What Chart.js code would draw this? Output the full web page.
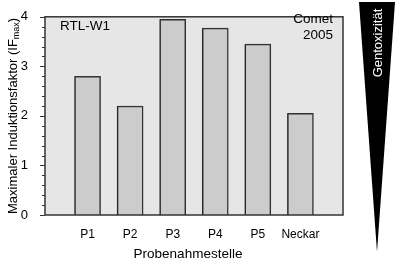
<!DOCTYPE html>
<html>
<head>
<meta charset="utf-8">
<script src="https://cdn.jsdelivr.net/npm/chart.js@4.4.1/dist/chart.umd.min.js"></script>
<style>
  html, body { margin: 0; padding: 0; background: #fff; }
  canvas { display: block; }
</style>
</head>
<body>
<canvas id="ifChart" width="396" height="261"></canvas>
<script>
// sampling sites (empty slots at both ends keep the axis running 0..7)
const sites = ['', 'P1', 'P2', 'P3', 'P4', 'P5', 'Neckar', ''];
const ifMax = [null, 2.80, 2.20, 3.95, 3.77, 3.45, 2.05, null];
const yMin = 0;
const yMax = 4;
const yMinorStep = 0.2;

const FONT = "'Liberation Sans', Arial, sans-serif";

const decor = {
    id: 'decor',
    beforeDraw(chart) {
        const { ctx, chartArea: a } = chart;
        ctx.save();
        ctx.fillStyle = '#e6e6e6';
        ctx.fillRect(a.left, a.top, a.right - a.left, a.bottom - a.top);
        ctx.restore();
    },
    beforeDatasetsDraw(chart) {
        // faint shadow on the left side of the bars
        const ctx = chart.ctx;
        ctx.save();
        ctx.shadowColor = 'rgba(0,0,0,0.22)';
        ctx.shadowOffsetX = -1.5;
        ctx.shadowOffsetY = 0;
        ctx.shadowBlur = 0;
    },
    afterDatasetsDraw(chart) {
        const { ctx, chartArea: a } = chart;
        ctx.restore();
        const y = chart.scales.y;
        ctx.save();
        ctx.strokeStyle = '#333';
        ctx.lineWidth = 1.5;
        ctx.strokeRect(a.left, a.top, a.right - a.left, a.bottom - a.top);

        // y ticks, major and minor
        ctx.lineWidth = 1;
        for (let v = yMin; v <= yMax + 1e-9; v += yMinorStep) {
            const py = Math.round(y.getPixelForValue(v)) + 0.5;
            const major = Math.abs(v - Math.round(v)) < 1e-6;
            ctx.beginPath();
            ctx.moveTo(a.left - (major ? 5 : 3), py);
            ctx.lineTo(a.left, py);
            ctx.stroke();
        }

        // y title with subscript
        ctx.fillStyle = '#000';
        ctx.translate(13, (a.top + a.bottom) / 2);
        ctx.rotate(-Math.PI / 2);
        const main = 'Maximaler Induktionsfaktor (IF';
        ctx.font = '13px ' + FONT;
        const w1 = ctx.measureText(main).width;
        ctx.font = '9px ' + FONT;
        const w2 = ctx.measureText('max').width;
        ctx.font = '13px ' + FONT;
        const w3 = ctx.measureText(')').width;
        let x0 = -(w1 + w2 + w3) / 2;
        ctx.textBaseline = 'middle';
        ctx.textAlign = 'left';
        ctx.fillText(main, x0, 0);
        ctx.font = '9px ' + FONT;
        ctx.fillText('max', x0 + w1, 4);
        ctx.font = '13px ' + FONT;
        ctx.fillText(')', x0 + w1 + w2, 0);
        ctx.restore();

        // x title
        ctx.save();
        ctx.fillStyle = '#000';
        ctx.font = '13.5px ' + FONT;
        ctx.textAlign = 'center';
        ctx.textBaseline = 'middle';
        ctx.fillText('Probenahmestelle', 188, 254);
        ctx.restore();

        // annotations
        ctx.save();
        ctx.fillStyle = '#000';
        ctx.font = '13.5px ' + FONT;
        ctx.textBaseline = 'middle';
        ctx.textAlign = 'left';
        ctx.fillText('RTL-W1', 60, 26);
        ctx.textAlign = 'right';
        ctx.fillText('Comet', 333, 19);
        ctx.fillText('2005', 333, 35);
        ctx.restore();

        // genotoxicity wedge
        ctx.save();
        ctx.fillStyle = '#000';
        ctx.beginPath();
        ctx.moveTo(359, 2);
        ctx.lineTo(395, 2);
        ctx.lineTo(377, 252);
        ctx.closePath();
        ctx.fill();
        ctx.translate(378, 43);
        ctx.rotate(-Math.PI / 2);
        ctx.fillStyle = '#fff';
        ctx.font = '13px ' + FONT;
        ctx.textAlign = 'center';
        ctx.textBaseline = 'middle';
        ctx.fillText('Gentoxizität', 0, 0);
        ctx.restore();
    }
};

new Chart(document.getElementById('ifChart'), {
    type: 'bar',
    data: {
        labels: sites,
        datasets: [{
            data: ifMax,
            backgroundColor: '#cccccc',
            borderColor: '#333',
            borderWidth: 1.5,
            barThickness: 26
        }]
    },
    options: {
        responsive: false,
        animation: false,
        devicePixelRatio: 1,
        layout: { padding: { top: 4, right: 53, left: 0, bottom: 0 } },
        plugins: { legend: { display: false }, tooltip: { enabled: false } },
        scales: {
            x: {
                offset: false,
                grid: { display: false },
                border: { display: false },
                ticks: {
                    color: '#000',
                    font: { family: FONT, size: 12 },
                    padding: 4,
                    maxRotation: 0,
                    autoSkip: false
                },
                afterFit(s) { s.height = 46; }
            },
            y: {
                min: yMin,
                max: yMax,
                grid: { display: false },
                border: { display: false },
                ticks: {
                    stepSize: 1,
                    color: '#000',
                    font: { family: FONT, size: 13 },
                    padding: 9
                },
                afterFit(s) { s.width = 45; }
            }
        }
    },
    plugins: [decor]
});
</script>
</body>
</html>
